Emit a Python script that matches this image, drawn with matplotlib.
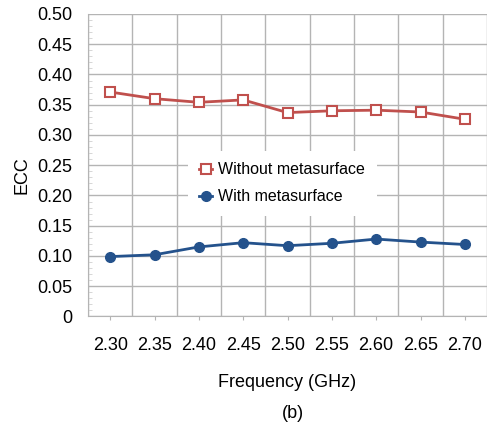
import numpy as np
import matplotlib.pyplot as plt

plt.rcParams['font.family'] = ['Liberation Sans', 'DejaVu Sans']

# Datos
frecuencias = ['2.30', '2.35', '2.40', '2.45', '2.50', '2.55', '2.60', '2.65', '2.70']
ecc_sin = [0.371, 0.360, 0.354, 0.358, 0.337, 0.340, 0.341, 0.338, 0.326]
ecc_con = [0.099, 0.102, 0.115, 0.122, 0.117, 0.121, 0.128, 0.123, 0.119]
yticks = [0, 0.05, 0.10, 0.15, 0.20, 0.25, 0.30, 0.35, 0.40, 0.45, 0.50]
ytick_labels = ['0', '0.05', '0.10', '0.15', '0.20', '0.25', '0.30', '0.35', '0.40', '0.45', '0.50']

rojo = '#c0504d'
azul = '#24528c'
gris = '#b4b4b4'

fig = plt.figure(figsize=(4.87, 4.25), dpi=100)
ax = fig.add_axes([0.1807, 0.2553, 0.8193, 0.7118])

x = np.arange(len(frecuencias))
ax.plot(x, ecc_sin, color=rojo, lw=2, marker='s', ms=6.5, mfc='white',
        mec=rojo, mew=1.5, label='Without metasurface', zorder=3)
ax.plot(x, ecc_con, color=azul, lw=2, marker='o', ms=7, mfc=azul,
        mec=azul, label='With metasurface', zorder=3)

ax.set_xlim(-0.5, len(frecuencias) - 0.5)
ax.set_ylim(0, 0.5)
ax.set_xticks(x)
ax.set_xticklabels(frecuencias, fontsize=13)
ax.set_xticks(np.arange(len(frecuencias) + 1) - 0.5, minor=True)
ax.set_yticks(yticks)
ax.set_yticklabels(ytick_labels, fontsize=13)
ax.set_yticks(np.arange(0, 0.501, 0.01), minor=True)

ax.grid(True, which='major', axis='y', color=gris, lw=1)
ax.grid(True, which='minor', axis='x', color=gris, lw=1)
ax.tick_params(axis='x', which='major', length=3, color=gris, pad=12)
ax.tick_params(axis='x', which='minor', length=0)
ax.tick_params(axis='y', which='major', length=0, pad=11)
ax.tick_params(axis='y', which='minor', length=3, color='#d0d0d0', direction='in')
for s in ['top', 'right']:
    ax.spines[s].set_visible(False)
for s in ['left', 'bottom']:
    ax.spines[s].set_color(gris)

ax.set_xlabel('Frequency (GHz)', fontsize=13, labelpad=14)
fig.text(22 / 487, 1 - 175 / 425, 'ECC', fontsize=13, rotation=90,
         ha='center', va='center')

leg = ax.legend(loc='center', bbox_to_anchor=(0.487, 0.44), frameon=True,
                fontsize=11.5, handlelength=0.8, handletextpad=0.4,
                borderpad=0.7, labelspacing=0.75, fancybox=False)
leg.get_frame().set_edgecolor('none')
leg.get_frame().set_facecolor('white')
leg.get_frame().set_alpha(1)
leg.set_zorder(4)

fig.text(293 / 487, 1 - 413 / 425, '(b)', fontsize=13, ha='center', va='center')

fig.savefig('out.png', dpi=100)
